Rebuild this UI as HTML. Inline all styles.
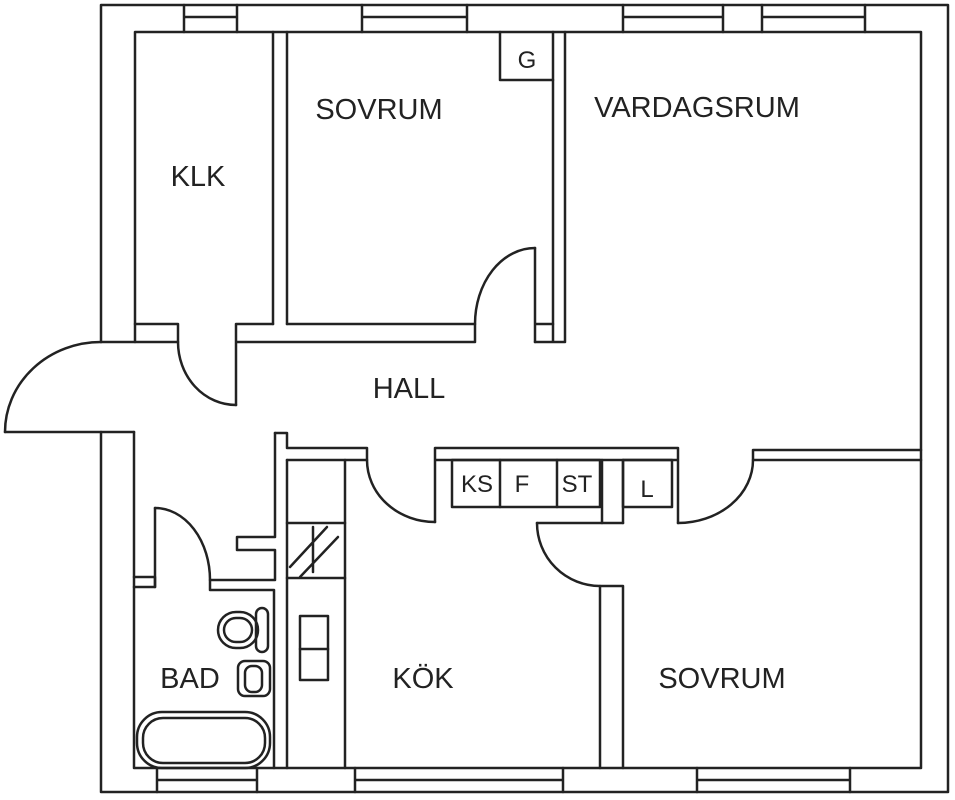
<!DOCTYPE html>
<html><head><meta charset="utf-8"><style>
html,body{margin:0;padding:0;background:#fff;width:955px;height:800px;overflow:hidden}
svg{display:block}
text{font-family:"Liberation Sans",sans-serif;fill:#222}
</style></head><body>
<svg width="955" height="800" viewBox="0 0 955 800" xmlns="http://www.w3.org/2000/svg">
<g fill="none" stroke="#222" stroke-width="2.5" stroke-linecap="round" stroke-linejoin="round">
<!-- outer walls -->
<path d="M101,342 V5 H948 V792 H101 V432"/>
<path d="M135,342 V32 H921 V768 H134 V432"/>
<path d="M5,432 H134"/>
<path d="M5,432 A96,90 0 0 1 101,342"/>
<!-- top windows -->
<path d="M184,5V32M237,5V32M184,17H237"/>
<path d="M362,5V32M467,5V32M362,17H467"/>
<path d="M623,5V32M723,5V32M623,17H723"/>
<path d="M762,5V32M865,5V32M762,17H865"/>
<!-- bottom windows -->
<path d="M157,768V792M257,768V792M157,780H257"/>
<path d="M355,768V792M563,768V792M355,780H563"/>
<path d="M697,768V792M850,768V792M697,780H850"/>
<!-- KLK / sovrum -->
<path d="M135,324H178V342M101,342H178"/>
<path d="M273,32V324M287,32V324"/>
<path d="M236,405V324H273M287,324H475V342H236"/>
<path d="M178,342 A58,63 0 0 0 236,405"/>
<path d="M535,248V342M535,324H553"/>
<path d="M475,324 A60,76 0 0 1 535,248"/>
<path d="M553,32V342M565,32V342M535,342H565"/>
<path d="M500,32V80H553"/>
<!-- hall bottom / kitchen -->
<path d="M275,433H287V448H367V460H287"/>
<path d="M275,433V537H237V550H275V580H210V590H274V768"/>
<path d="M287,460V768M345,460V768"/>
<path d="M287,523H345M287,578H345"/>
<path d="M290,567L327,527M300,577L338,537M313,527V572"/>
<rect x="300" y="616" width="28" height="64"/>
<path d="M300,649H328"/>
<path d="M435,522V448H678V523M435,460H678"/>
<path d="M367,460 A68,62 0 0 0 435,522"/>
<path d="M678,523 A75,63 0 0 0 753,460"/>
<path d="M753,460V450H921M753,460H921"/>
<rect x="452" y="460" width="148" height="47"/>
<path d="M500,460V507M557,460V507"/>
<path d="M602,460V523M623,460V523"/>
<rect x="623" y="460" width="49" height="47"/>
<path d="M537,523H623"/>
<path d="M537,523 A63,63 0 0 0 600,586"/>
<path d="M600,768V586H623V768"/>
<!-- bath -->
<path d="M134,577H155V587H134"/>
<path d="M155,587V508"/>
<path d="M155,508 A55,72 0 0 1 210,580"/>
<rect x="218" y="612" width="40" height="36" rx="18"/>
<rect x="224" y="618" width="28" height="24" rx="12"/>
<rect x="256" y="608" width="12" height="44" rx="6"/>
<rect x="238" y="661" width="32" height="35" rx="7"/>
<rect x="245" y="666" width="17" height="26" rx="7"/>
<rect x="137" y="712" width="133" height="56" rx="25"/>
<rect x="143" y="718" width="122" height="45" rx="20"/>
</g>
<g font-size="29">
<text x="198" y="186" text-anchor="middle">KLK</text>
<text x="379" y="119" text-anchor="middle">SOVRUM</text>
<text x="697" y="117" text-anchor="middle">VARDAGSRUM</text>
<text x="409" y="398" text-anchor="middle">HALL</text>
<text x="190" y="688" text-anchor="middle">BAD</text>
<text x="423" y="688" text-anchor="middle">KÖK</text>
<text x="722" y="688" text-anchor="middle">SOVRUM</text>
</g>
<g font-size="24">
<text x="527" y="68" text-anchor="middle">G</text>
<text x="477" y="492" text-anchor="middle">KS</text>
<text x="522" y="492" text-anchor="middle">F</text>
<text x="577" y="492" text-anchor="middle">ST</text>
<text x="647" y="497" text-anchor="middle">L</text>
</g>
</svg>
</body></html>
